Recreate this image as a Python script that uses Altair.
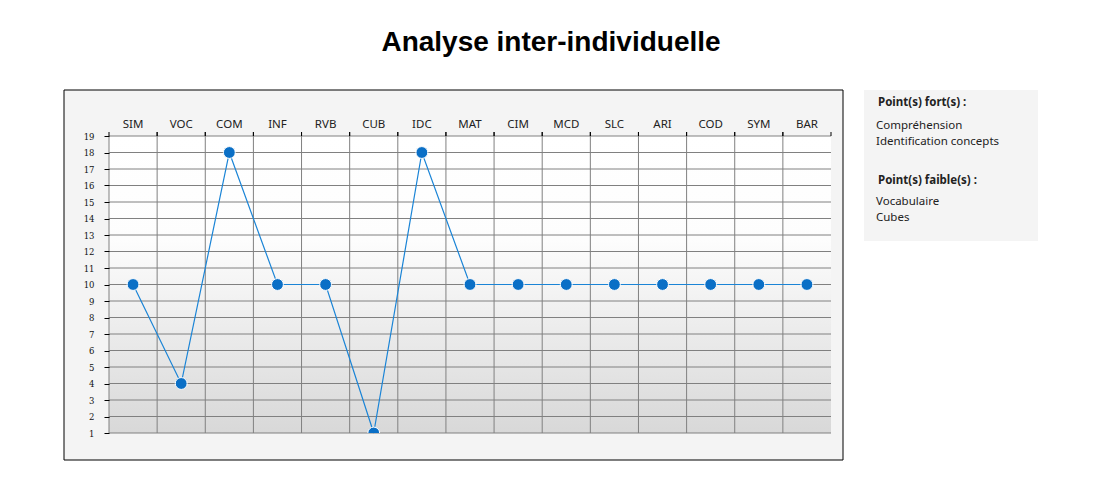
import altair as alt
import pandas as pd

# ---- data ----
subtests = ["SIM", "VOC", "COM", "INF", "RVB", "CUB", "IDC", "MAT",
            "CIM", "MCD", "SLC", "ARI", "COD", "SYM", "BAR"]
scores = [10, 4, 18, 10, 10, 1, 18, 10, 10, 10, 10, 10, 10, 10, 10]
y_ticks = list(range(1, 20))
title_text = "Analyse inter-individuelle"
strengths_title = "Point(s) fort(s) :"
strengths = ["Compréhension", "Identification concepts"]
weaknesses_title = "Point(s) faible(s) :"
weaknesses = ["Vocabulaire", "Cubes"]

df = pd.DataFrame({"test": subtests, "score": scores})
df_y = pd.DataFrame({"score": y_ticks})


def one():
    return alt.Data(values=[{"k": 0}])


W, H = 722, 297
UI_FONT = "Noto Sans"
GRID = "#808080"

frame = alt.Chart(one()).mark_rect(
    fill="#f4f4f4", stroke="black", strokeWidth=1
).encode(x=alt.value(-45), x2=alt.value(734), y=alt.value(-46), y2=alt.value(324))

panel = alt.Chart(one()).mark_rect(fill="#f4f4f4").encode(
    x=alt.value(755), x2=alt.value(929), y=alt.value(-46), y2=alt.value(105)
)

bg = alt.Chart(one()).mark_rect(
    fill=alt.Gradient(
        gradient="linear", x1=0, x2=0, y1=0, y2=1,
        stops=[alt.GradientStop(offset=0, color="#ffffff"),
               alt.GradientStop(offset=0.35, color="#fdfdfd"),
               alt.GradientStop(offset=1, color="#d8d8d8")],
    ),
).encode(x=alt.value(0), x2=alt.value(W), y=alt.value(0), y2=alt.value(H))

title = alt.Chart(one()).mark_text(
    font="Liberation Sans", fontSize=28, fontWeight="bold", color="black",
    align="center", baseline="middle"
).encode(x=alt.value(442), y=alt.value(-93), text=alt.value(title_text))

texts = []
def txt(s, x, y, bold=False):
    return alt.Chart(one()).mark_text(
        font=UI_FONT, fontSize=11.5, color="#222222", align="left", baseline="middle",
        fontWeight="bold" if bold else "normal",
    ).encode(x=alt.value(x), y=alt.value(y), text=alt.value(s))

texts.append(txt(strengths_title, 769, -33, True))
for i, s in enumerate(strengths):
    texts.append(txt(s, 767, -10 + 16 * i))
texts.append(txt(weaknesses_title, 769, 45, True))
for i, s in enumerate(weaknesses):
    texts.append(txt(s, 767, 66 + 16 * i))

x_scale = alt.Scale(domain=subtests, paddingInner=0, paddingOuter=0)
y_scale = alt.Scale(domain=[1, 19], nice=False, zero=False)

x_axis = alt.Axis(
    orient="top", grid=False, domain=False, ticks=False, labelAngle=0,
    labelFont=UI_FONT, labelFontSize=11.5, labelColor="#222222", labelPadding=9,
    labelBaseline="alphabetic", zindex=1,
)
y_axis = alt.Axis(
    values=y_ticks, grid=False, domain=False, labelOverlap=False,
    tickSize=5, tickColor="#000000", labelFont="DejaVu Serif", labelFontSize=8.5,
    labelColor="#111111", labelPadding=10, zindex=1,
)


def X(band=0.5):
    return alt.X("test:N", sort=subtests, title=None, scale=x_scale, axis=x_axis,
                 bandPosition=band)


def Y():
    return alt.Y("score:Q", title=None, scale=y_scale, axis=y_axis)


hgrid = alt.Chart(df_y).mark_rule(color=GRID, strokeWidth=1).encode(y=Y())
vgrid = alt.Chart(df).mark_rule(color=GRID, strokeWidth=1).encode(x=X(0))

xt0 = alt.Chart(df).mark_rule(color="black", strokeWidth=1).encode(
    x=X(0), y=alt.value(-4), y2=alt.value(0)
)
xt1 = alt.Chart(df).mark_rule(color="black", strokeWidth=1).encode(
    x=X(1), y=alt.value(-4), y2=alt.value(0)
)

line = alt.Chart(df).mark_line(color="#1a84d6", strokeWidth=1.2).encode(x=X(), y=Y())
points = alt.Chart(df).mark_point(
    filled=True, size=140, fill="#0a6fc6", stroke="white", strokeWidth=1,
    opacity=1, clip=True,
).encode(x=X(), y=Y())

chart = alt.layer(frame, panel, bg, hgrid, vgrid, xt0, xt1, line, points, title, *texts).properties(
    width=W, height=H,
    autosize=alt.AutoSizeParams(type="none"),
    padding={"left": 101, "top": 128, "right": 250, "bottom": 40},
).configure_view(stroke=GRID, strokeWidth=1).configure(background="white")

chart.save("out.html", embed_options={"renderer": "svg", "actions": False})
